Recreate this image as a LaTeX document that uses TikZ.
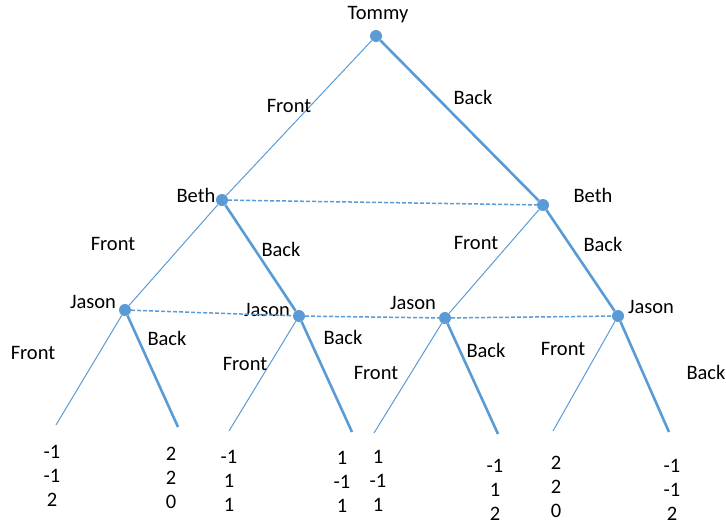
\documentclass[tikz,border=0pt]{standalone}
\usepackage{fontspec}
\setmainfont{Carlito}
\definecolor{treeblue}{HTML}{5B9BD5}

\begin{document}
\begin{tikzpicture}[x=1pt, y=-1pt,
  every node/.style={font=\fontsize{20.5}{24}\selectfont},
  dot/.style={circle, fill=treeblue, minimum size=12pt, inner sep=0pt},
  front/.style={draw=treeblue, line width=1pt},
  back/.style={draw=treeblue, line width=2.6pt},
  info/.style={draw=treeblue, line width=1.5pt, dash pattern=on 4pt off 2pt},
  pay/.style={align=center, inner sep=0pt}]
\useasboundingbox (0,0) rectangle (726,525);

% decision points
\node[dot] (T) at (376,36) {};
\node[dot] (BL) at (222,200) {};
\node[dot] (BR) at (543,205) {};
\node[dot] (JA) at (125,310) {};
\node[dot] (JB) at (299,316) {};
\node[dot] (JC) at (445,318) {};
\node[dot] (JD) at (618,316) {};

% player names
\node (nT) at (378,15) {Tommy};
\node (nBL) at (196,195) {Beth};
\node (nBR) at (593,195) {Beth};
\node (nJA) at (93,302) {Jason};
\node (nJB) at (267,310) {Jason};
\node (nJC) at (413,303) {Jason};
\node (nJD) at (651,307) {Jason};

% leaf ends
\coordinate (L1) at (56,425);
\coordinate (L2) at (178,427);
\coordinate (L3) at (229,431);
\coordinate (L4) at (352,432);
\coordinate (L5) at (374,433);
\coordinate (L6) at (498,434);
\coordinate (L7) at (553,431);
\coordinate (L8) at (669,432);

% moves
\draw[front] (T) -- (BL);
\draw[back] (T) -- (BR);
\draw[front] (BL) -- (JA);
\draw[back] (BL) -- (JB);
\draw[front] (BR) -- (JC);
\draw[back] (BR) -- (JD);
\draw[front] (JA) -- (L1);
\draw[back] (JA) -- (L2);
\draw[front] (JB) -- (L3);
\draw[back] (JB) -- (L4);
\draw[front] (JC) -- (L5);
\draw[back] (JC) -- (L6);
\draw[front] (JD) -- (L7);
\draw[back] (JD) -- (L8);

% information sets
\draw[info] (BL) -- (BR);
\draw[info] (JA) -- (JB) -- (JC) -- (JD);

% move labels
\node (fT) at (289,106) {Front};
\node (bT) at (473,97) {Back};
\node (fBL) at (113,244) {Front};
\node (bBL) at (281,249) {Back};
\node (fBR) at (476,243) {Front};
\node (bBR) at (603,244) {Back};
\node (fJA) at (33,353) {Front};
\node (bJA) at (167,338) {Back};
\node (fJB) at (245,364) {Front};
\node (bJB) at (343,337) {Back};
\node (fJC) at (376,373) {Front};
\node (bJC) at (486,350) {Back};
\node (fJD) at (563,349) {Front};
\node (bJD) at (706,372) {Back};

% payoffs
\node[pay] (P1) at (52,476) {-1\\-1\\2};
\node[pay] (P2) at (171,478) {2\\2\\0};
\node[pay] (P3) at (229,481) {-1\\1\\1};
\node[pay] (P4) at (342,482) {1\\-1\\1};
\node[pay] (P5) at (378,481) {1\\-1\\1};
\node[pay] (P6) at (495,490) {-1\\1\\2};
\node[pay] (P7) at (556,487) {2\\2\\0};
\node[pay] (P8) at (672,490) {-1\\-1\\2};
\end{tikzpicture}
\end{document}
